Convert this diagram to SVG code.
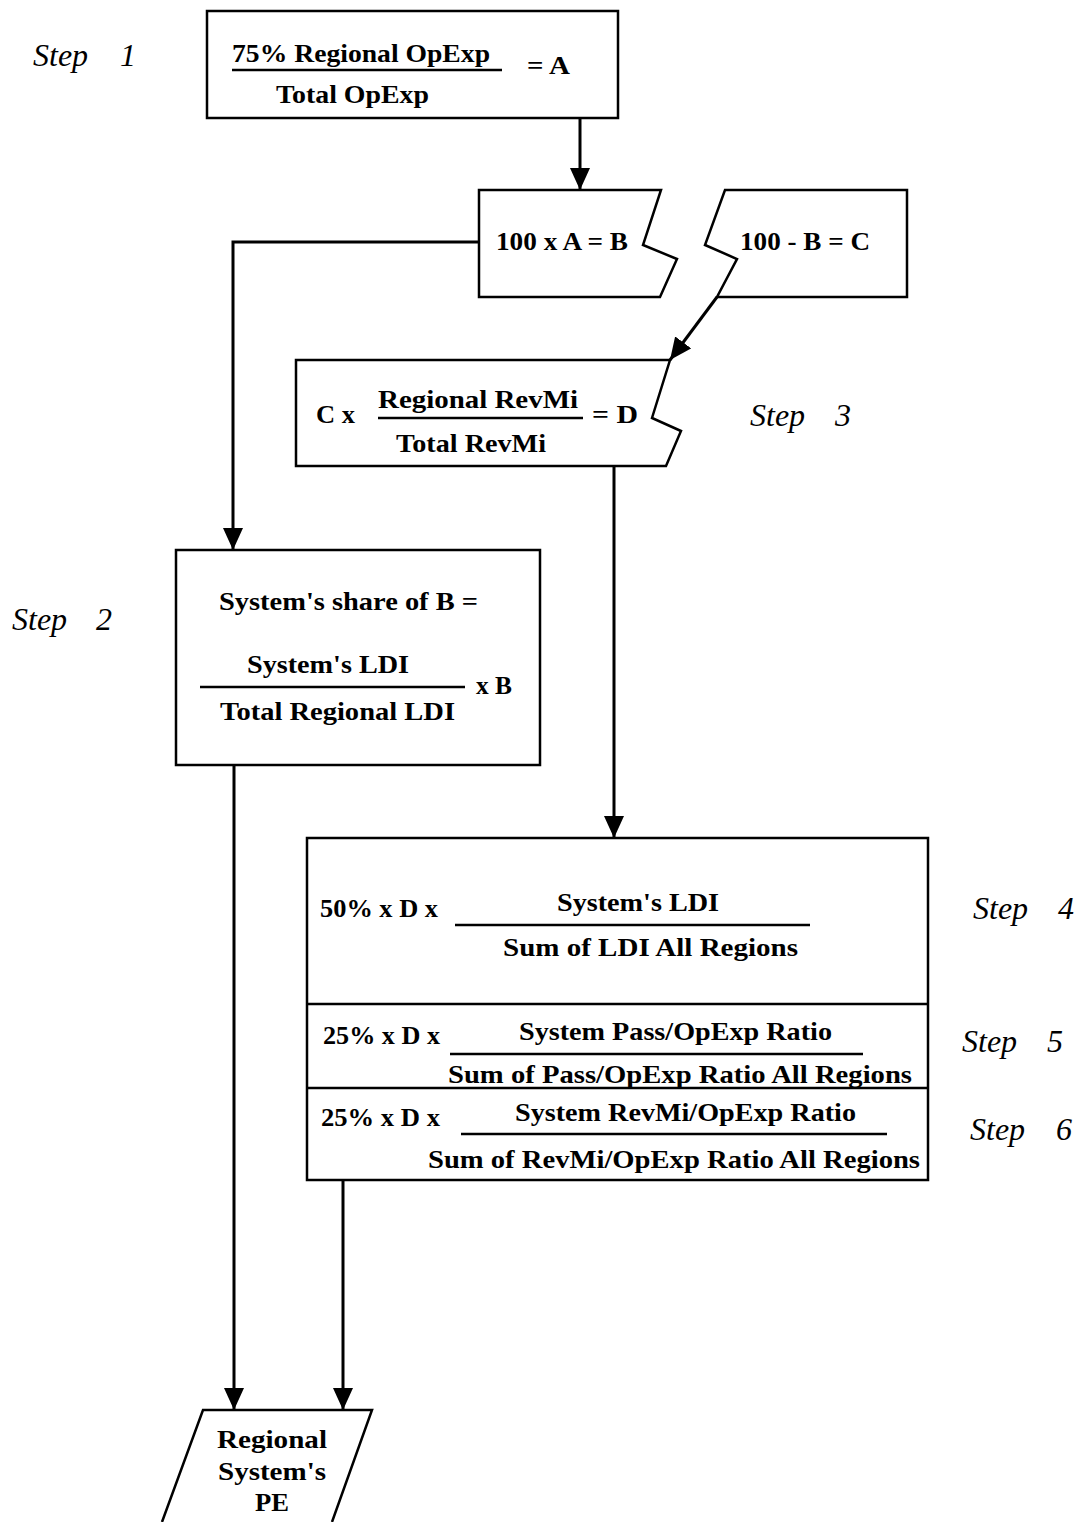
<svg xmlns="http://www.w3.org/2000/svg" width="1080" height="1522" viewBox="0 0 1080 1522">
<style>
.b{fill:#fff;stroke:#000;stroke-width:2.5;stroke-linejoin:miter}
.t{font-family:"Liberation Serif","DejaVu Serif",serif;font-weight:bold;font-size:25px;fill:#000}
.s{font-family:"Liberation Serif","DejaVu Serif",serif;font-style:italic;font-size:32px;fill:#000}
.f{stroke:#000;stroke-width:2.5}
.c{fill:none;stroke:#000;stroke-width:3}
</style>
<defs>
<marker id="ah" markerUnits="userSpaceOnUse" markerWidth="24" markerHeight="20" refX="22" refY="10" orient="auto">
<path d="M0,0 L22,10 L0,20 z" fill="#000"/>
</marker>
</defs>
<rect width="1080" height="1522" fill="#fff"/>

<g id="connectors">
<line class="c" x1="580" y1="118" x2="580" y2="190" marker-end="url(#ah)"/>
<polyline class="c" points="479,242 233,242 233,550" marker-end="url(#ah)"/>
<line class="c" x1="717" y1="297" x2="670" y2="360" marker-end="url(#ah)"/>
<line class="c" x1="614" y1="466" x2="614" y2="838" marker-end="url(#ah)"/>
<line class="c" x1="234" y1="765" x2="234" y2="1410" marker-end="url(#ah)"/>
<line class="c" x1="343" y1="1180" x2="343" y2="1410" marker-end="url(#ah)"/>
</g>

<g id="labels">
<text class="s" x="33" y="66">Step <tspan x="120">1</tspan></text>
<text class="s" x="12" y="630">Step <tspan x="96">2</tspan></text>
<text class="s" x="750" y="426">Step <tspan x="835">3</tspan></text>
<text class="s" x="973" y="919">Step <tspan x="1058">4</tspan></text>
<text class="s" x="962" y="1052">Step <tspan x="1047">5</tspan></text>
<text class="s" x="970" y="1140">Step <tspan x="1056">6</tspan></text>
</g>

<g id="step1">
<rect class="b" x="207" y="11" width="411" height="107"/>
<text class="t" x="232" y="62" textLength="258" lengthAdjust="spacingAndGlyphs">75% Regional OpExp</text>
<line class="f" x1="232" y1="70" x2="502" y2="70"/>
<text class="t" x="527" y="74" textLength="43" lengthAdjust="spacingAndGlyphs">= A</text>
<text class="t" x="276" y="103" textLength="153" lengthAdjust="spacingAndGlyphs">Total OpExp</text>
</g>

<g id="nodeB">
<path class="b" d="M479,190 L661,190 L643,245 L677,259 L660,297 L479,297 Z"/>
<text class="t" x="496" y="250" textLength="132" lengthAdjust="spacingAndGlyphs">100 x A = B</text>
</g>

<g id="nodeC">
<path class="b" d="M725,190 L907,190 L907,297 L717,297 L737,259 L705,245 Z"/>
<text class="t" x="740" y="250" textLength="130" lengthAdjust="spacingAndGlyphs">100 - B = C</text>
</g>

<g id="step3">
<path class="b" d="M296,360 L670,360 L652,418 L681,431 L666,466 L296,466 Z"/>
<text class="t" x="316" y="423" textLength="39" lengthAdjust="spacingAndGlyphs">C x</text>
<text class="t" x="378" y="408" textLength="200" lengthAdjust="spacingAndGlyphs">Regional RevMi</text>
<line class="f" x1="378" y1="418" x2="583" y2="418"/>
<text class="t" x="592" y="423" textLength="46" lengthAdjust="spacingAndGlyphs">= D</text>
<text class="t" x="396" y="452" textLength="150" lengthAdjust="spacingAndGlyphs">Total RevMi</text>
</g>

<g id="step2">
<rect class="b" x="176" y="550" width="364" height="215"/>
<text class="t" x="219" y="610" textLength="259" lengthAdjust="spacingAndGlyphs">System's share of B =</text>
<text class="t" x="247" y="673" textLength="162" lengthAdjust="spacingAndGlyphs">System's LDI</text>
<line class="f" x1="200" y1="687" x2="465" y2="687"/>
<text class="t" x="476" y="694" textLength="36" lengthAdjust="spacingAndGlyphs">x B</text>
<text class="t" x="220" y="720" textLength="235" lengthAdjust="spacingAndGlyphs">Total Regional LDI</text>
</g>

<g id="step456">
<rect class="b" x="307" y="838" width="621" height="342"/>
<line class="f" x1="307" y1="1004" x2="928" y2="1004"/>
<line class="f" x1="307" y1="1088" x2="928" y2="1088"/>
<text class="t" x="320" y="917" textLength="118" lengthAdjust="spacingAndGlyphs">50% x D x</text>
<text class="t" x="557" y="911" textLength="162" lengthAdjust="spacingAndGlyphs">System's LDI</text>
<line class="f" x1="455" y1="925" x2="810" y2="925"/>
<text class="t" x="503" y="956" textLength="295" lengthAdjust="spacingAndGlyphs">Sum of LDI All Regions</text>
<text class="t" x="323" y="1044" textLength="117" lengthAdjust="spacingAndGlyphs">25% x D x</text>
<text class="t" x="519" y="1040" textLength="313" lengthAdjust="spacingAndGlyphs">System Pass/OpExp Ratio</text>
<line class="f" x1="450" y1="1054" x2="863" y2="1054"/>
<text class="t" x="448" y="1083" textLength="464" lengthAdjust="spacingAndGlyphs">Sum of Pass/OpExp Ratio All Regions</text>
<text class="t" x="321" y="1126" textLength="119" lengthAdjust="spacingAndGlyphs">25% x D x</text>
<text class="t" x="515" y="1121" textLength="341" lengthAdjust="spacingAndGlyphs">System RevMi/OpExp Ratio</text>
<line class="f" x1="461" y1="1134" x2="887" y2="1134"/>
<text class="t" x="428" y="1168" textLength="492" lengthAdjust="spacingAndGlyphs">Sum of RevMi/OpExp Ratio All Regions</text>
</g>

<g id="output">
<path class="b" d="M162,1522 L203,1410 L372,1410 L332,1522"/>
<text class="t" x="272" y="1448" text-anchor="middle" textLength="110" lengthAdjust="spacingAndGlyphs">Regional</text>
<text class="t" x="272" y="1480" text-anchor="middle" textLength="108" lengthAdjust="spacingAndGlyphs">System's</text>
<text class="t" x="272" y="1511" text-anchor="middle" textLength="34" lengthAdjust="spacingAndGlyphs">PE</text>
</g>
</svg>
